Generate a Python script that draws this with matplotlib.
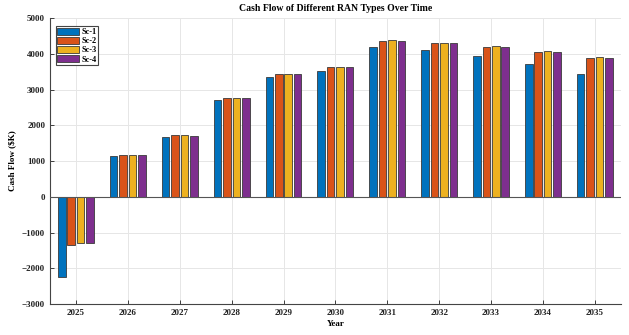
import matplotlib
matplotlib.use("Agg")
import matplotlib.pyplot as plt
import numpy as np

years = [2025, 2026, 2027, 2028, 2029, 2030, 2031, 2032, 2033, 2034, 2035]
series_names = ["Sc-1", "Sc-2", "Sc-3", "Sc-4"]
sc1 = [-2250, 1130, 1665, 2705, 3350, 3525, 4205, 4105, 3940, 3715, 3435]
sc2 = [-1360, 1160, 1720, 2765, 3425, 3620, 4355, 4310, 4190, 4050, 3885]
sc3 = [-1305, 1160, 1720, 2765, 3425, 3630, 4375, 4310, 4215, 4075, 3910]
sc4 = [-1300, 1160, 1700, 2765, 3440, 3620, 4355, 4310, 4205, 4050, 3885]
colors = ["#0072BD", "#D95319", "#EDB120", "#7E2F8E"]

plt.rcParams["font.family"] = ["Liberation Serif", "DejaVu Serif"]
plt.rcParams["font.weight"] = "bold"

fig = plt.figure(figsize=(6.29, 3.35), dpi=100)
ax = fig.add_axes([0.0795, 0.0925, 0.9075, 0.8535])

x = np.array(years, dtype=float)
step = 0.182
width = 0.145
for i, (vals, name, c) in enumerate(zip([sc1, sc2, sc3, sc4], series_names, colors)):
    ax.bar(x + (i - 1.5) * step, vals, width=width, color=c, edgecolor="#3a3a3a",
           linewidth=0.6, label=name, zorder=3)

ax.axhline(0, color="#555555", linewidth=0.8, zorder=4)

ax.set_xlim(2024.5, 2035.5)
ax.set_ylim(-3000, 5000)
ax.set_xticks(years)
ax.set_xticklabels([str(y) for y in years])
ax.set_yticks(np.arange(-3000, 5001, 1000))

ax.grid(True, color="#e6e6e6", linewidth=0.7, zorder=0)
ax.set_axisbelow(True)
for s in ["top", "right"]:
    ax.spines[s].set_visible(False)
for s in ["left", "bottom"]:
    ax.spines[s].set_color("#444444")
    ax.spines[s].set_linewidth(0.8)
ax.tick_params(direction="in", length=3, width=0.6, colors="#222222", labelsize=6.5)
for lbl in ax.get_xticklabels() + ax.get_yticklabels():
    lbl.set_fontweight("bold")

ax.set_title("Cash Flow of Different RAN Types Over Time", fontsize=7, fontweight="bold", pad=5)
ax.set_xlabel("Year", fontsize=6.5, fontweight="bold", labelpad=2)
ax.set_ylabel("Cash Flow (\\$K)", fontsize=6.5, fontweight="bold", labelpad=4)

leg = ax.legend(loc="upper left", bbox_to_anchor=(0.010, 0.972), fontsize=6,
                handlelength=2.6, handleheight=0.95, handletextpad=0.25,
                labelspacing=0.08, borderpad=0.2, borderaxespad=0.0,
                fancybox=False, edgecolor="#444444", framealpha=1)
leg.get_frame().set_linewidth(0.8)
for t in leg.get_texts():
    t.set_fontweight("bold")

fig.savefig("out.png", dpi=100)
